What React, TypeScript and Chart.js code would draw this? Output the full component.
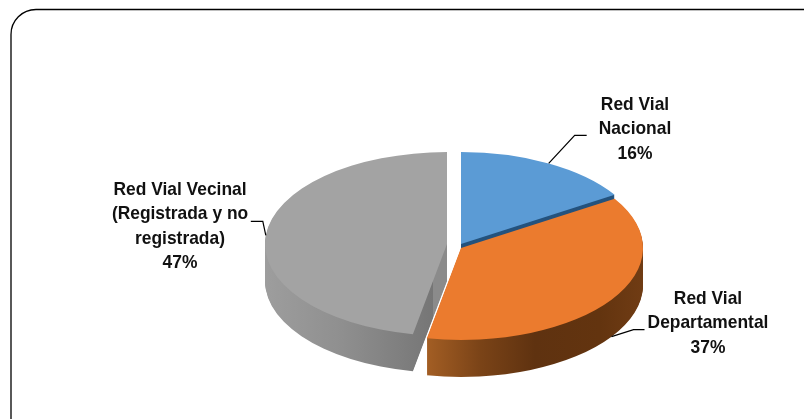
import React, { useEffect, useRef } from "react";
import { Chart, registerables } from "chart.js";

Chart.register(...registerables);

const categories = ["Red Vial Nacional", "Red Vial Departamental", "Red Vial Vecinal (Registrada y no registrada)"];
const values = [16, 37, 47];
const topColors = ["#5b9bd5", "#eb7b2e", "#a3a3a3"];
const explodeX = [0, 0, -14];
const explodeY = [-4, 0, -4];
const labelLines = [
  ["Red Vial", "Nacional", "16%"],
  ["Red Vial", "Departamental", "37%"],
  ["Red Vial Vecinal", "(Registrada y no", "registrada)", "47%"],
];
const labelCenters = [
  { x: 635, y: 105 },
  { x: 708, y: 299 },
  { x: 180, y: 190 },
];
const leaderElbows = [
  [{ dx: 26, dy: -28 }, { dx: 38, dy: -28 }],
  [{ dx: 22, dy: -7 }, { dx: 33, dy: -7 }],
  [{ dx: -3, dy: -14 }, { dx: -15, dy: -14 }],
];

const PIE_Y = 248;
const TILT = 0.505;
const DEPTH = 37;
const RADIUS = 182;

function wallFill(ctx: CanvasRenderingContext2D, i: number, arc: any) {
  const cx = arc.x + explodeX[i];
  const left = cx - RADIUS;
  const right = cx + RADIUS;
  const grad = ctx.createLinearGradient(left, 0, right, 0);
  const frac = (x: number) => Math.min(1, Math.max(0, (x - left) / (right - left)));
  const tipX = cx + RADIUS * Math.cos(arc.endAngle);
  if (i === 0) {
    grad.addColorStop(0, "#24527d");
    grad.addColorStop(1, "#24527d");
  } else if (i === 1) {
    const t = frac(tipX);
    grad.addColorStop(t, "#a35e24");
    grad.addColorStop(t + (1 - t) * 0.25, "#7a4317");
    grad.addColorStop(t + (1 - t) * 0.5, "#5f3210");
    grad.addColorStop(t + (1 - t) * 0.8, "#63340f");
    grad.addColorStop(1, "#703c14");
  } else {
    const t = frac(tipX);
    grad.addColorStop(0, "#a0a0a0");
    grad.addColorStop(t * 0.5, "#8f8f8f");
    grad.addColorStop(t, "#767676");
    grad.addColorStop(t, "#8b8b8b");
    grad.addColorStop(1, "#8b8b8b");
  }
  return grad;
}

const pie3d = {
  id: "pie3d",
  beforeDraw(chart: any) {
    const ctx = chart.ctx as CanvasRenderingContext2D;
    ctx.save();
    ctx.strokeStyle = "#000000";
    ctx.lineWidth = 1.3;
    ctx.beginPath();
    ctx.roundRect(11, 9.5, 830, 440, 25);
    ctx.stroke();
    ctx.restore();
  },
  beforeDatasetsDraw(chart: any) {
    const ctx = chart.ctx as CanvasRenderingContext2D;
    const arcs = chart.getDatasetMeta(0).data as any[];
    const chartCy = arcs[0].y;
    const place = (i: number, d: number) => {
      ctx.translate(explodeX[i], PIE_Y + explodeY[i] + d);
      ctx.scale(1, TILT);
      ctx.translate(0, -chartCy);
    };
    const order = [2, 0, 1];
    order.forEach((i) => {
      const arc = arcs[i];
      const wall = Object.create(arc);
      wall.options = { ...arc.options, backgroundColor: wallFill(ctx, i, arc), borderWidth: 0 };
      for (let d = DEPTH; d >= 1; d--) {
        ctx.save();
        place(i, d);
        wall.draw(ctx);
        ctx.restore();
      }
      ctx.save();
      place(i, 0);
      arc.draw(ctx);
      ctx.restore();
    });

    arcs.forEach((arc, i) => {
      const mid = (arc.startAngle + arc.endAngle) / 2;
      const r = arc.outerRadius;
      const ax = arc.x + explodeX[i] + Math.cos(mid) * r;
      const ay = PIE_Y + explodeY[i] + Math.sin(mid) * r * TILT + (Math.sin(mid) > 0.3 ? DEPTH : 0);
      ctx.save();
      ctx.strokeStyle = "#000000";
      ctx.lineWidth = 1.2;
      ctx.beginPath();
      ctx.moveTo(ax, ay);
      leaderElbows[i].forEach((e) => ctx.lineTo(ax + e.dx, ay + e.dy));
      ctx.stroke();
      ctx.restore();

      labelLines[i].forEach((line, n) => {
        ctx.save();
        ctx.fillStyle = "#111111";
        ctx.font = "bold 18.5px 'Liberation Sans'";
        ctx.textAlign = "center";
        ctx.textBaseline = "middle";
        ctx.translate(labelCenters[i].x, labelCenters[i].y + n * 24.3);
        ctx.scale(0.94, 1);
        ctx.fillText(line, 0, 0);
        ctx.restore();
      });
    });
    return false;
  },
};

export default function App() {
  const ref = useRef<HTMLCanvasElement>(null);
  useEffect(() => {
    document.body.style.margin = "0";
    const chart = new Chart(ref.current as HTMLCanvasElement, {
      type: "pie",
      data: {
        labels: categories,
        datasets: [
          {
            data: values,
            backgroundColor: topColors,
            borderWidth: 0,
          },
        ],
      },
      options: {
        responsive: false,
        animation: false,
        radius: RADIUS,
        layout: { padding: { left: 118, right: 0, top: 0, bottom: 0 } },
        plugins: { legend: { display: false }, tooltip: { enabled: false }, title: { display: false } },
      } as any,
      plugins: [pie3d],
    });
    return () => chart.destroy();
  }, []);
  return <canvas ref={ref} width={804} height={419} style={{ display: "block" }} />;
}
